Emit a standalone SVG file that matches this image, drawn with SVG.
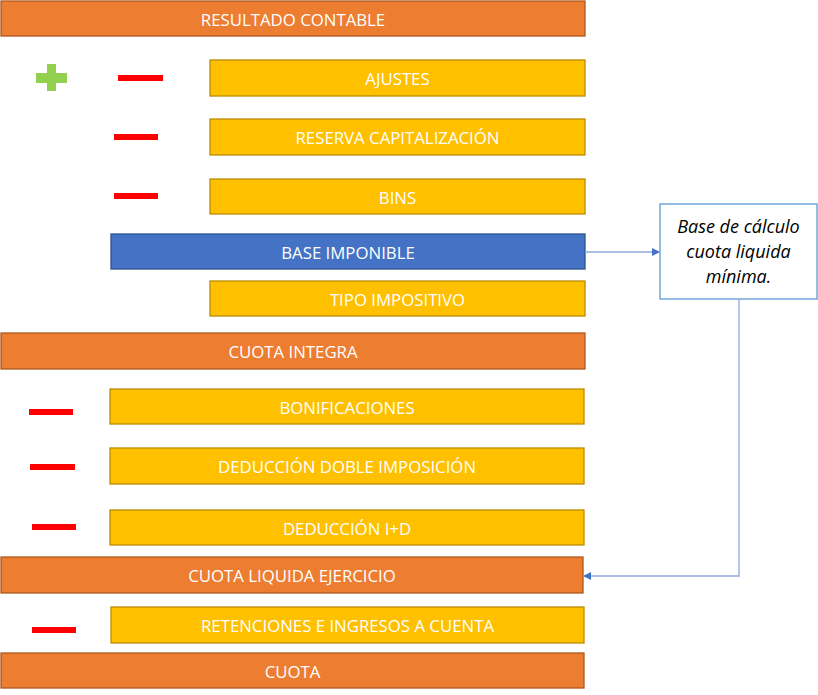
<svg xmlns="http://www.w3.org/2000/svg" width="818" height="695" viewBox="0 0 818 695">
<style>
.o{fill:#ED7D31;stroke:#AE5A21;stroke-width:1.3}
.y{fill:#FFC000;stroke:#BC8C00;stroke-width:1.3}
.b{fill:#4472C4;stroke:#2F528F;stroke-width:1.3}
.t{font-family:"Open Sans","Liberation Sans",sans-serif;font-size:16.8px;fill:#fff;text-anchor:middle;dominant-baseline:central}
.c{font-family:"Open Sans","Liberation Sans",sans-serif;font-size:18px;font-style:italic;fill:#000;text-anchor:middle}
.m{fill:#FF0000}
.ln{fill:none;stroke:#8FAADC;stroke-width:1.3}
</style>
<defs>
<marker id="ar" markerWidth="8" markerHeight="8" refX="7" refY="4" orient="auto" markerUnits="userSpaceOnUse">
<path d="M0,0 L8,4 L0,8 Z" fill="#4472C4"/>
</marker>
</defs>
<g id="resultado"><rect class="o" x="1" y="1" width="584" height="35"/><text class="t" x="293" y="19">RESULTADO CONTABLE</text></g>
<g id="ajustes"><rect class="y" x="210" y="60" width="375" height="36"/><text class="t" x="397.5" y="78">AJUSTES</text></g>
<g id="reserva"><rect class="y" x="210" y="119" width="375" height="36"/><text class="t" x="397.5" y="137">RESERVA CAPITALIZACIÓN</text></g>
<g id="bins"><rect class="y" x="210" y="179" width="375" height="35"/><text class="t" x="397.5" y="197">BINS</text></g>
<g id="base"><rect class="b" x="111" y="234" width="474" height="35"/><text class="t" x="348" y="252">BASE IMPONIBLE</text></g>
<g id="tipo"><rect class="y" x="210" y="281" width="375" height="35"/><text class="t" x="397.5" y="299">TIPO IMPOSITIVO</text></g>
<g id="integra"><rect class="o" x="1" y="333" width="584" height="36"/><text class="t" x="293" y="351">CUOTA INTEGRA</text></g>
<g id="bonif"><rect class="y" x="110" y="389" width="474" height="35"/><text class="t" x="347" y="407">BONIFICACIONES</text></g>
<g id="doble"><rect class="y" x="110" y="448" width="474" height="36"/><text class="t" x="347" y="466">DEDUCCIÓN DOBLE IMPOSICIÓN</text></g>
<g id="imasd"><rect class="y" x="110" y="510" width="474" height="35"/><text class="t" x="347" y="528">DEDUCCIÓN I+D</text></g>
<g id="liquida"><rect class="o" x="1" y="557" width="582" height="36"/><text class="t" x="292" y="575">CUOTA LIQUIDA EJERCICIO</text></g>
<g id="retenciones"><rect class="y" x="111" y="607" width="473" height="36"/><text class="t" x="347.5" y="625">RETENCIONES E INGRESOS A CUENTA</text></g>
<g id="cuota"><rect class="o" x="1" y="653" width="583" height="35"/><text class="t" x="292.5" y="671">CUOTA</text></g>
<g id="callout"><rect x="660" y="204" width="157" height="95" fill="#fff" stroke="#5B9BD5" stroke-width="1.3"/>
<text class="c" x="738.5" y="233">Base de cálculo</text>
<text class="c" x="738.5" y="258">cuota liquida</text>
<text class="c" x="738.5" y="283">mínima.</text></g>
<g id="signs">
<rect x="47" y="64" width="9" height="27" fill="#92D050"/>
<rect x="36" y="73" width="31" height="10" fill="#92D050"/>
<rect class="m" x="118" y="75" width="45" height="6"/>
<rect class="m" x="114" y="134" width="44" height="6"/>
<rect class="m" x="114" y="193" width="44" height="6"/>
<rect class="m" x="29" y="409" width="44" height="6"/>
<rect class="m" x="30" y="464" width="45" height="6"/>
<rect class="m" x="32" y="524" width="44" height="6"/>
<rect class="m" x="32" y="627" width="44" height="6"/>
</g>
<g id="connectors">
<path class="ln" d="M585,252 L659,252" marker-end="url(#ar)"/>
<path class="ln" d="M739,299 L739,576 L584,576" marker-end="url(#ar)"/>
</g>
</svg>
